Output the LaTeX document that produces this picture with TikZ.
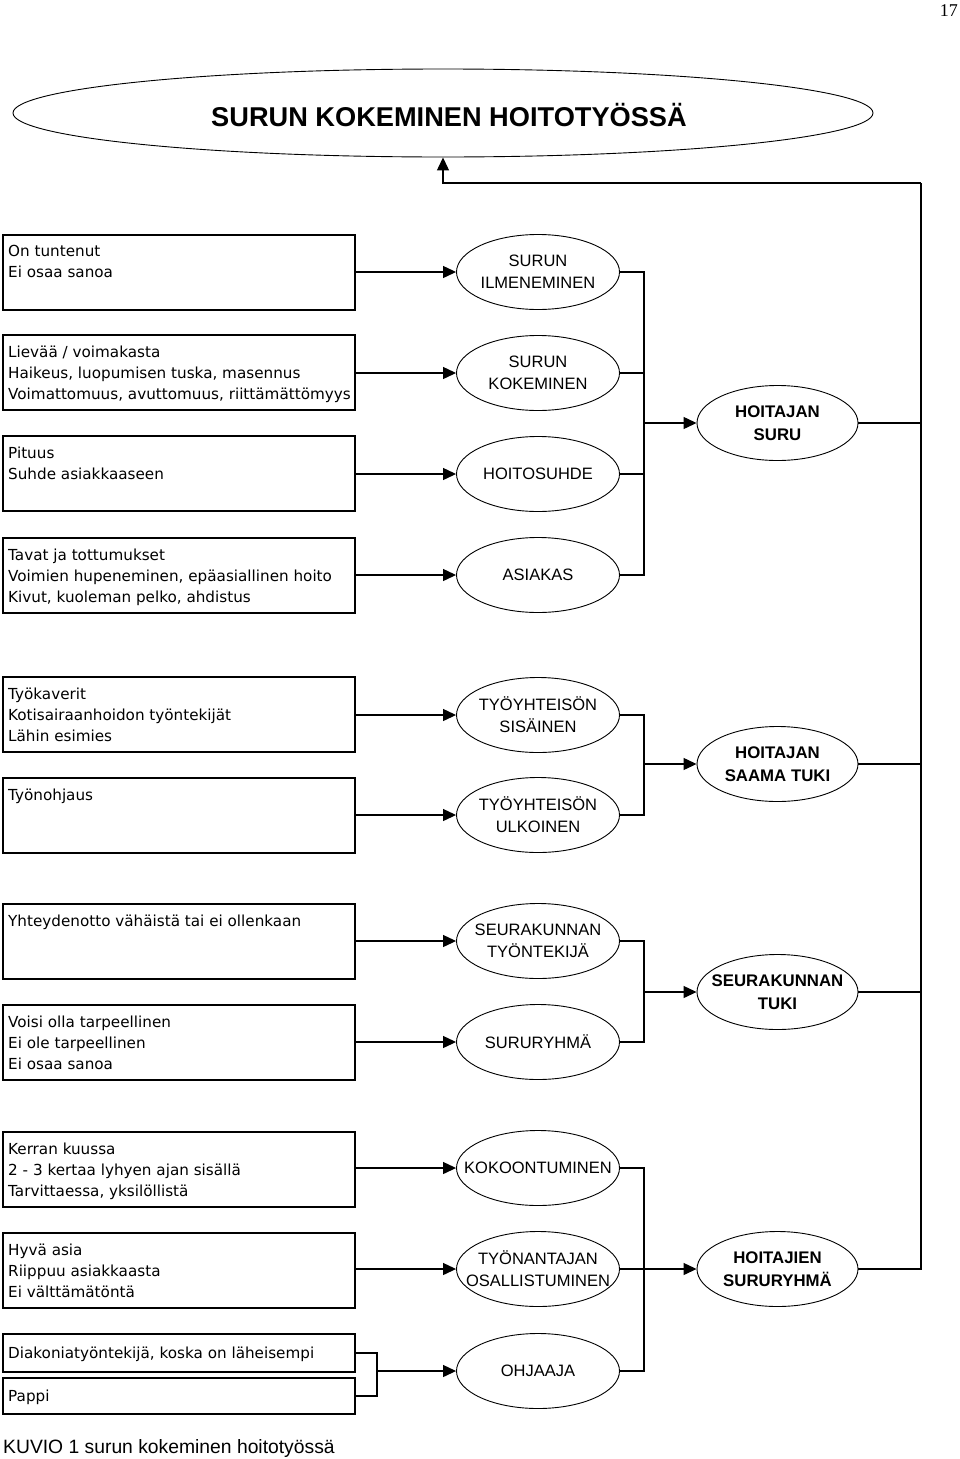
\documentclass[tikz,border=0pt]{standalone}
\usepackage{fontspec}
\setmainfont{Liberation Sans}
\newfontfamily\dvs{DejaVu Sans}
\newfontfamily\lserif{Liberation Serif}
\usetikzlibrary{shapes.geometric,arrows.meta,calc}
\begin{document}
\begin{tikzpicture}[x=1pt,y=-1pt,
  box/.style={draw,line width=1.1pt,anchor=north west,minimum width=352pt,inner sep=0pt,outer sep=0pt},
  btext/.style={anchor=north west,inner sep=0pt,align=left,font=\dvs\fontsize{15.2}{21}\selectfont},
  ell/.style={draw,ellipse,line width=0.9pt,minimum width=163pt,minimum height=75pt,inner sep=0pt},
  etext/.style={inner sep=0pt,align=center,font=\fontsize{16.5}{22}\selectfont},
  rell/.style={ell,minimum width=161pt},
  rtext/.style={inner sep=0pt,align=center,font=\bfseries\fontsize{16.8}{22.5}\selectfont},
  conn/.style={line width=1.2pt},
  arr/.style={conn,-{Triangle[length=13pt,width=12pt]}},
]
\fill[white] (0,0) rectangle (960,1459);
\useasboundingbox (0,0) rectangle (960,1459);

% page number and caption
\node[anchor=north east,inner sep=0pt,font=\lserif\fontsize{18}{18}\selectfont] (pg) at (958,4) {17};
\node[anchor=base west,inner sep=0pt,font=\fontsize{19.3}{19.3}\selectfont] (cap) at (3,1453) {KUVIO 1 surun kokeminen hoitotyössä};

% title
\node[draw,ellipse,line width=0.9pt,minimum width=860pt,minimum height=88pt,inner sep=0pt] (title) at (443,113) {};
\node[inner sep=0pt,font=\bfseries\fontsize{27.2}{27.2}\selectfont] (titlet) at (449,115) {SURUN KOKEMINEN HOITOTYÖSSÄ};

% left boxes
\node[box,minimum height=75pt] (b1) at (3,235) {};
\node[box,minimum height=75pt] (b2) at (3,335) {};
\node[box,minimum height=75pt] (b3) at (3,436) {};
\node[box,minimum height=75pt] (b4) at (3,538) {};
\node[box,minimum height=75pt] (b5) at (3,677) {};
\node[box,minimum height=75pt] (b6) at (3,778) {};
\node[box,minimum height=75pt] (b7) at (3,904) {};
\node[box,minimum height=75pt] (b8) at (3,1005) {};
\node[box,minimum height=75pt] (b9) at (3,1132) {};
\node[box,minimum height=75pt] (b10) at (3,1233) {};
\node[box,minimum height=38pt] (b11) at (3,1334) {};
\node[box,minimum height=36pt] (b12) at (3,1378) {};

\node[btext] (t1) at ($(b1.north west)+(5,10.5)$) {On tuntenut\\Ei osaa sanoa};
\node[btext] (t2) at ($(b2.north west)+(5,10.5)$) {Lievää / voimakasta\\Haikeus, luopumisen tuska, masennus\\Voimattomuus, avuttomuus, riittämättömyys};
\node[btext] (t3) at ($(b3.north west)+(5,10.5)$) {Pituus\\Suhde asiakkaaseen};
\node[btext] (t4) at ($(b4.north west)+(5,10.5)$) {Tavat ja tottumukset\\Voimien hupeneminen, epäasiallinen hoito\\Kivut, kuoleman pelko, ahdistus};
\node[btext] (t5) at ($(b5.north west)+(5,10.5)$) {Työkaverit\\Kotisairaanhoidon työntekijät\\Lähin esimies};
\node[btext] (t6) at ($(b6.north west)+(5,10.5)$) {Työnohjaus};
\node[btext] (t7) at ($(b7.north west)+(5,10.5)$) {Yhteydenotto vähäistä tai ei ollenkaan};
\node[btext] (t8) at ($(b8.north west)+(5,10.5)$) {Voisi olla tarpeellinen\\Ei ole tarpeellinen\\Ei osaa sanoa};
\node[btext] (t9) at ($(b9.north west)+(5,10.5)$) {Kerran kuussa\\2 - 3 kertaa lyhyen ajan sisällä\\Tarvittaessa, yksilöllistä};
\node[btext] (t10) at ($(b10.north west)+(5,10.5)$) {Hyvä asia\\Riippuu asiakkaasta\\Ei välttämätöntä};
\node[btext] (t11) at ($(b11.north west)+(5,12.5)$) {Diakoniatyöntekijä, koska on läheisempi};
\node[btext] (t12) at ($(b12.north west)+(5,11.5)$) {Pappi};

% middle ellipses
\node[ell] (e1) at (538,272) {};
\node[ell] (e2) at (538,373) {};
\node[ell] (e3) at (538,474) {};
\node[ell] (e4) at (538,575) {};
\node[ell] (e5) at (538,715) {};
\node[ell] (e6) at (538,815) {};
\node[ell] (e7) at (538,941) {};
\node[ell] (e8) at (538,1042) {};
\node[ell] (e9) at (538,1168) {};
\node[ell] (e10) at (538,1269) {};
\node[ell] (e11) at (538,1371) {};

\node[etext] (e1t) at (e1) {SURUN\\ILMENEMINEN};
\node[etext] (e2t) at (e2) {SURUN\\KOKEMINEN};
\node[etext] (e3t) at (e3) {HOITOSUHDE};
\node[etext] (e4t) at (e4) {ASIAKAS};
\node[etext] (e5t) at (e5) {TYÖYHTEISÖN\\SISÄINEN};
\node[etext] (e6t) at (e6) {TYÖYHTEISÖN\\ULKOINEN};
\node[etext] (e7t) at (e7) {SEURAKUNNAN\\TYÖNTEKIJÄ};
\node[etext] (e8t) at (e8) {SURURYHMÄ};
\node[etext] (e9t) at (e9) {KOKOONTUMINEN};
\node[etext] (e10t) at (e10) {TYÖNANTAJAN\\OSALLISTUMINEN};
\node[etext] (e11t) at (e11) {OHJAAJA};

% right ellipses
\node[rell] (r1) at (777.5,423) {};
\node[rell] (r2) at (777.5,764) {};
\node[rell] (r3) at (777.5,992) {};
\node[rell] (r4) at (777.5,1269) {};
\node[rtext] (r1t) at (r1) {HOITAJAN\\SURU};
\node[rtext] (r2t) at (r2) {HOITAJAN\\SAAMA TUKI};
\node[rtext] (r3t) at (r3) {SEURAKUNNAN\\TUKI};
\node[rtext] (r4t) at (r4) {HOITAJIEN\\SURURYHMÄ};

% box -> ellipse arrows
\foreach \i in {1,...,10} {\draw[arr] (b\i.east |- e\i.west) -- (e\i.west);}
\coordinate (br) at (377,1371);
\draw[conn] (b11.east) -| (br);
\draw[conn] (b12.east) -| (br);
\draw[arr] (br) -- (e11.west);

% group buses
\coordinate (j1) at (644,423);
\coordinate (j2) at (644,764);
\coordinate (j3) at (644,992);
\coordinate (j4) at (644,1269);
\foreach \i in {1,2,3,4} {\draw[conn] (e\i.east) -| (j1);}
\foreach \i in {5,6} {\draw[conn] (e\i.east) -| (j2);}
\foreach \i in {7,8} {\draw[conn] (e\i.east) -| (j3);}
\foreach \i in {9,10,11} {\draw[conn] (e\i.east) -| (j4);}
\draw[arr] (j1) -- (r1.west);
\draw[arr] (j2) -- (r2.west);
\draw[arr] (j3) -- (r3.west);
\draw[arr] (j4) -- (r4.west);

% main bus back to title
\coordinate (m) at (921,183);
\foreach \i in {1,2,3,4} {\draw[conn] (r\i.east) -| (m);}
\draw[arr] (m) -| (title.south);
\end{tikzpicture}
\end{document}
